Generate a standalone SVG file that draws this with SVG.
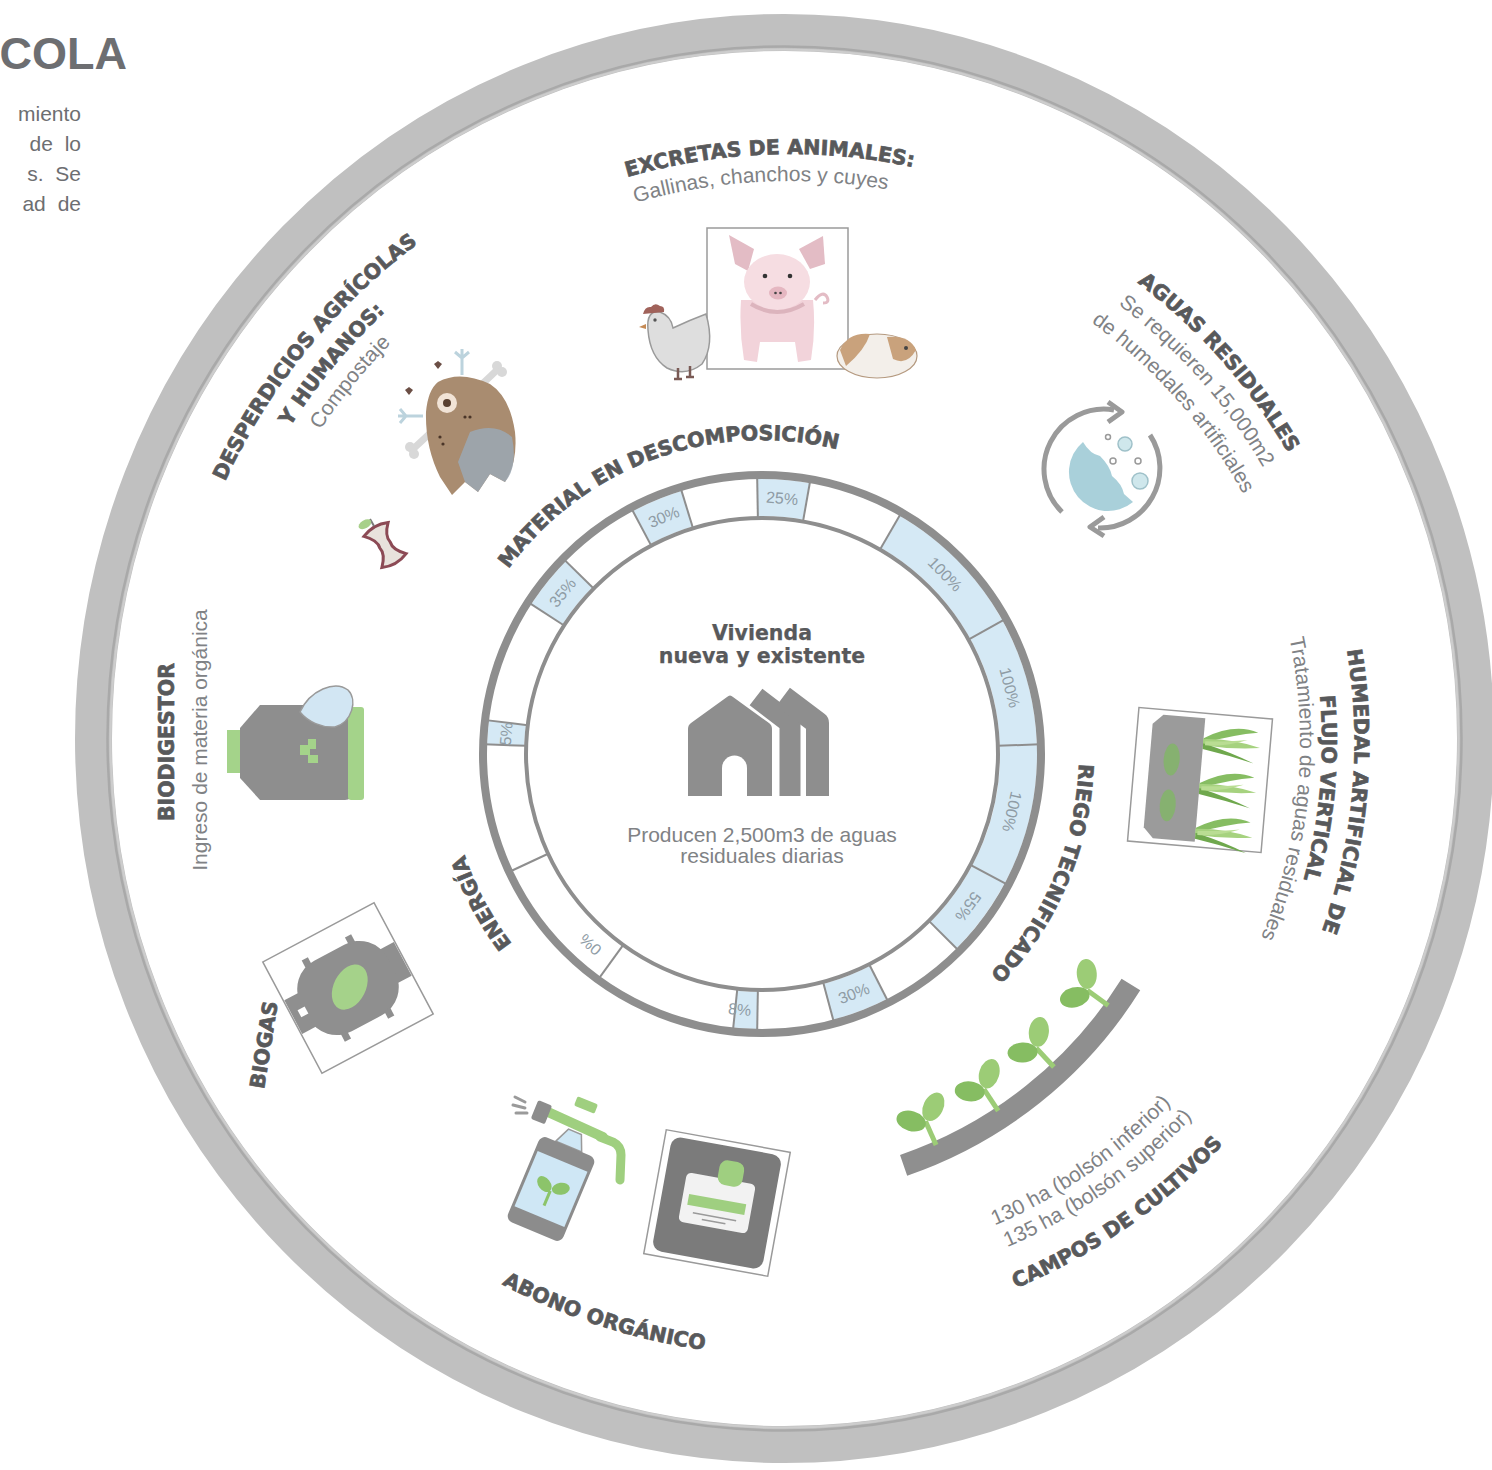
<svg xmlns="http://www.w3.org/2000/svg" width="1492" height="1470" viewBox="0 0 1492 1470">
<style>
.h{font-family:"DejaVu Sans","Liberation Sans",sans-serif;font-weight:bold;fill:#58595b;stroke:#58595b;stroke-width:0.7px;font-size:20.5px}
.hc{stroke-width:0.25px}
.t{font-family:"Liberation Sans",Arial,sans-serif;fill:#808285;font-size:21px}
.pct{font-family:"Liberation Sans",Arial,sans-serif;font-size:16px;fill:#8f9ca5;text-anchor:middle}
.seg{fill:none;stroke:#d5e9f5;stroke-width:37}
.dv{stroke:#8e8e8e;stroke-width:2}
.ico{stroke:#9a9a9a;stroke-width:1.5;fill:#fff}
.leaf{fill:#9ccc76}
.leafd{fill:#86bd62}
</style>
<defs>
  <!-- arcs around the outer ring centre (790,742); glyph tops point outward -->
  <path id="o588" d="M280.8,448 A588,588 0 0 1 1299.2,448"/>
  <path id="o561" d="M304.2,461.5 A561,561 0 0 1 1275.8,461.5"/>
  <path id="o622" d="M251.3,431 A622,622 0 0 1 1328.7,431"/>
  <path id="o591" d="M278.2,446.5 A591,591 0 0 1 1301.8,446.5"/>
  <path id="o564" d="M301.6,460 A564,564 0 0 1 1278.4,460"/>
  <path id="o576" d="M291.2,454 A576,576 0 0 1 1288.8,454"/>
  <path id="o547" d="M316.3,468.5 A547,547 0 0 1 1263.7,468.5"/>
  <path id="o516" d="M342.7,483.75 A516.5,516.5 0 0 1 1237.3,483.75"/>
  <path id="o564b" d="M301.1,459.75 A564.5,564.5 0 0 1 1278.9,459.75"/>
  <path id="o532" d="M329.3,476 A532,532 0 0 1 1250.7,476"/>
  <path id="o510" d="M348.3,487 A510,510 0 0 1 1231.7,487"/>
  <!-- arcs through the bottom; glyph tops point inward -->
  <path id="u614" d="M258.3,1049 A614,614 0 0 0 1321.7,1049"/>
  <path id="u591" d="M278.2,1037.5 A591,591 0 0 0 1301.8,1037.5"/>
  <path id="u550" d="M313.7,1017 A550,550 0 0 0 1266.3,1017"/>
  <path id="u525" d="M335.3,1004.5 A525,525 0 0 0 1244.7,1004.5"/>
  <!-- arcs around the inner ring centre (762,754) -->
  <path id="i314" d="M490.1,597 A314,314 0 0 1 1033.9,597"/>
  <path id="i317" d="M487.5,595.5 A317,317 0 0 1 1036.5,595.5"/>
</defs>

<rect width="1492" height="1470" fill="#fff"/>

<!-- title fragment and paragraph tail -->
<g id="title">
  <text x="127" y="69" text-anchor="end" font-family="Liberation Sans,Arial,sans-serif" font-weight="bold" font-size="45" fill="#6d6e71">COLA</text>
  <g font-family="Liberation Sans,Arial,sans-serif" font-size="21" fill="#6d6e71" text-anchor="end">
    <text x="81" y="121">miento</text>
    <text x="81" y="151" word-spacing="6">de lo</text>
    <text x="81" y="181" word-spacing="6">s. Se</text>
    <text x="81" y="211" word-spacing="6">ad de</text>
  </g>
</g>

<!-- outer ring -->
<g id="outer-ring">
  <ellipse cx="784.5" cy="738.5" rx="691" ry="706" fill="none" stroke="#c0c0c0" stroke-width="37"/>
  <ellipse cx="784.5" cy="738.5" rx="677" ry="692" fill="none" stroke="#a9a9a9" stroke-width="2.5"/>
  <ellipse cx="784.5" cy="738.5" rx="674" ry="689" fill="none" stroke="#cdcdcd" stroke-width="2"/>
</g>

<!-- inner ring with percentage cells -->
<g id="inner-ring">
  <circle cx="762" cy="754" r="279" fill="#fff"/>
  <circle class="seg" cx="762" cy="754" r="256.5" stroke-dasharray="49.24 2000" transform="rotate(-91 762 754)"/>
  <circle class="seg" cx="762" cy="754" r="256.5" stroke-dasharray="138.78 2000" transform="rotate(-60 762 754)"/>
  <circle class="seg" cx="762" cy="754" r="256.5" stroke-dasharray="120.87 2000" transform="rotate(-29 762 754)"/>
  <circle class="seg" cx="762" cy="754" r="256.5" stroke-dasharray="134.3 2000" transform="rotate(-2 762 754)"/>
  <circle class="seg" cx="762" cy="754" r="256.5" stroke-dasharray="76.11 2000" transform="rotate(28 762 754)"/>
  <circle class="seg" cx="762" cy="754" r="256.5" stroke-dasharray="53.72 2000" transform="rotate(63 762 754)"/>
  <circle class="seg" cx="762" cy="754" r="256.5" stroke-dasharray="22.38 2000" transform="rotate(91 762 754)"/>
  <circle class="seg" cx="762" cy="754" r="256.5" stroke-dasharray="22.38 2000" transform="rotate(182 762 754)"/>
  <circle class="seg" cx="762" cy="754" r="256.5" stroke-dasharray="51.48 2000" transform="rotate(213 762 754)"/>
  <circle class="seg" cx="762" cy="754" r="256.5" stroke-dasharray="49.24 2000" transform="rotate(242 762 754)"/>
  <g class="dv">
    <line x1="762" y1="518" x2="762" y2="476" transform="rotate(-1 762 754)"/>
    <line x1="762" y1="518" x2="762" y2="476" transform="rotate(10 762 754)"/>
    <line x1="762" y1="518" x2="762" y2="476" transform="rotate(30 762 754)"/>
    <line x1="762" y1="518" x2="762" y2="476" transform="rotate(61 762 754)"/>
    <line x1="762" y1="518" x2="762" y2="476" transform="rotate(88 762 754)"/>
    <line x1="762" y1="518" x2="762" y2="476" transform="rotate(118 762 754)"/>
    <line x1="762" y1="518" x2="762" y2="476" transform="rotate(135 762 754)"/>
    <line x1="762" y1="518" x2="762" y2="476" transform="rotate(153 762 754)"/>
    <line x1="762" y1="518" x2="762" y2="476" transform="rotate(165 762 754)"/>
    <line x1="762" y1="518" x2="762" y2="476" transform="rotate(181 762 754)"/>
    <line x1="762" y1="518" x2="762" y2="476" transform="rotate(186 762 754)"/>
    <line x1="762" y1="518" x2="762" y2="476" transform="rotate(216 762 754)"/>
    <line x1="762" y1="518" x2="762" y2="476" transform="rotate(245 762 754)"/>
    <line x1="762" y1="518" x2="762" y2="476" transform="rotate(272 762 754)"/>
    <line x1="762" y1="518" x2="762" y2="476" transform="rotate(277 762 754)"/>
    <line x1="762" y1="518" x2="762" y2="476" transform="rotate(303 762 754)"/>
    <line x1="762" y1="518" x2="762" y2="476" transform="rotate(314.5 762 754)"/>
    <line x1="762" y1="518" x2="762" y2="476" transform="rotate(332 762 754)"/>
    <line x1="762" y1="518" x2="762" y2="476" transform="rotate(343 762 754)"/>
  </g>
  <circle cx="762" cy="754" r="279" fill="none" stroke="#8e8e8e" stroke-width="8"/>
  <circle cx="762" cy="754" r="236" fill="none" stroke="#8e8e8e" stroke-width="4"/>
  <text class="pct" x="762" y="503" transform="rotate(4.5 762 754)">25%</text>
  <text class="pct" x="762" y="503" transform="rotate(45.5 762 754)">100%</text>
  <text class="pct" x="762" y="503" transform="rotate(75 762 754)">100%</text>
  <text class="pct" x="762" y="503" transform="rotate(103 762 754)">100%</text>
  <text class="pct" x="762" y="503" transform="rotate(126.5 762 754)">55%</text>
  <text class="pct" x="762" y="503" transform="rotate(159 762 754) rotate(180 762 497.5)">30%</text>
  <text class="pct" x="762" y="503" transform="rotate(185 762 754) rotate(180 762 497.5)">8%</text>
  <text class="pct" x="762" y="503" transform="rotate(222 762 754)">0%</text>
  <text class="pct" x="762" y="503" font-size="12" transform="rotate(274.5 762 754)">5%</text>
  <text class="pct" x="762" y="503" transform="rotate(309 762 754)">35%</text>
  <text class="pct" x="762" y="503" transform="rotate(337.5 762 754)">30%</text>
</g>

<!-- centre: housing -->
<g id="vivienda">
  <text class="h hc" x="762" y="639.5" text-anchor="middle" font-size="19.5">Vivienda</text>
  <text class="h hc" x="762" y="662.5" text-anchor="middle" font-size="19.5">nueva y existente</text>
  <path d="M688,796 V729 Q688,725 691,723 L727,697 Q730,694 733,697 L769,723 Q772,725 772,729 V796 Z" fill="#8e8e8e"/>
  <path d="M722,796 V768 A12.5,12.5 0 0 1 747,768 V796 Z" fill="#fff"/>
  <polyline points="756,697 790,723 790,796" fill="none" stroke="#8e8e8e" stroke-width="21" stroke-linejoin="round"/>
  <polyline points="783,697 817.5,723 817.5,796" fill="none" stroke="#8e8e8e" stroke-width="23" stroke-linejoin="round"/>
  <text class="t" x="762" y="842" text-anchor="middle" font-size="20.5">Producen 2,500m3 de aguas</text>
  <text class="t" x="762" y="863" text-anchor="middle" font-size="20.5">residuales diarias</text>
</g>

<!-- curved section labels -->
<g id="labels">
  <text class="h" text-anchor="middle" transform="rotate(-20 762 754)"><textPath href="#i314" startOffset="50%">MATERIAL EN DESCOMPOSICIÓN</textPath></text>
  <text class="h" text-anchor="middle" transform="rotate(112.9 762 754)"><textPath href="#i317" startOffset="50%">RIEGO TECNIFICADO</textPath></text>
  <text class="h" text-anchor="middle" transform="rotate(-118 762 754)"><textPath href="#i314" startOffset="50%">ENERGÍA</textPath></text>
</g>

<g id="excretas">
  <text class="h" text-anchor="middle" transform="rotate(-2 790 742)"><textPath href="#o588" startOffset="50%">EXCRETAS DE ANIMALES:</textPath></text>
  <text class="t" font-size="20.5" text-anchor="middle" transform="rotate(-3 790 742)"><textPath href="#o561" startOffset="50%">Gallinas, chanchos y cuyes</textPath></text>
  <!-- pig card -->
  <rect class="ico" x="707" y="228" width="141" height="141"/>
  <path d="M729,235 L754,249 L748,271 L735,264 Z" fill="#e3bcc5"/>
  <path d="M823,236 L825,264 L810,269 L799,249 Z" fill="#e3bcc5"/>
  <path d="M741,300 Q739,330 744,360 L757,362 L760,342 L795,342 L798,362 L811,360 Q816,330 813,300 Z" fill="#f2d3da"/>
  <ellipse cx="777" cy="282" rx="33" ry="28" fill="#f6dde2"/>
  <path d="M751,304 Q777,320 804,304" fill="none" stroke="#dcb4bd" stroke-width="4"/>
  <circle cx="765" cy="276" r="2.3" fill="#333"/>
  <circle cx="790" cy="276" r="2.3" fill="#333"/>
  <ellipse cx="778" cy="293" rx="9" ry="6.5" fill="#e5b7c1"/>
  <circle cx="775.5" cy="293" r="1.3" fill="#444"/>
  <circle cx="780.5" cy="293" r="1.3" fill="#444"/>
  <path d="M815,300 q8,-10 12,-3 q3,6 -4,6" fill="none" stroke="#e3bcc5" stroke-width="3"/>
  <!-- hen -->
  <path d="M648,330 Q646,310 660,312 Q671,316 673,328 Q690,320 706,314 Q715,345 702,364 Q686,377 667,368 Q650,357 648,330 Z" fill="#dedede" stroke="#9a9a9a" stroke-width="1.5"/>
  <path d="M643,314 q2,-8 8,-7 q4,-5 9,-1 q5,0 4,6 Z" fill="#a0625a"/>
  <path d="M646,324 l-7,3 l7,2 Z" fill="#c58a55"/>
  <circle cx="655" cy="320" r="1.7" fill="#555"/>
  <path d="M678,368 v10 M690,366 v10 M674,379 h8 M686,377 h8" stroke="#7a5a55" stroke-width="2.5"/>
  <!-- guinea pig -->
  <ellipse cx="877" cy="356" rx="40" ry="22" fill="#f3efea" stroke="#b59a80" stroke-width="1.2"/>
  <path d="M840,350 Q848,332 870,334 Q865,350 846,366 Z" fill="#c9a27c"/>
  <path d="M887,337 Q910,335 916,350 Q907,366 893,359 Z" fill="#c9a27c"/>
  <circle cx="906" cy="348" r="2" fill="#444"/>
</g>

<g id="desperdicios">
  <text class="h" font-size="20" text-anchor="middle" transform="rotate(-51 790 742)"><textPath href="#o622" startOffset="50%">DESPERDICIOS AGRÍCOLAS</textPath></text>
  <text class="h" font-size="20" text-anchor="middle" transform="rotate(-50.5 790 742)"><textPath href="#o591" startOffset="50%">Y HUMANOS:</textPath></text>
  <text class="t" text-anchor="middle" transform="rotate(-50.7 790 742)"><textPath href="#o564" startOffset="50%">Compostaje</textPath></text>
  <!-- compost heap -->
  <path d="M412,450 L440,424" stroke="#d8d8d8" stroke-width="7" stroke-linecap="round"/>
  <circle cx="410" cy="447" r="5" fill="#d8d8d8"/><circle cx="414" cy="454" r="5" fill="#d8d8d8"/>
  <path d="M478,388 L497,370" stroke="#d8d8d8" stroke-width="7" stroke-linecap="round"/>
  <circle cx="497" cy="366" r="5" fill="#d8d8d8"/><circle cx="502" cy="372" r="5" fill="#d8d8d8"/>
  <path d="M438,382 Q460,370 490,384 Q510,397 515,432 Q518,462 505,482 L490,474 L478,492 L465,482 L452,495 L440,477 Q425,447 426,412 Q428,390 438,382 Z" fill="#a98c70"/>
  <path d="M470,432 Q495,422 512,437 Q518,467 505,482 L490,474 L478,492 L465,482 L458,462 Z" fill="#9ba8b4" opacity="0.85"/>
  <circle cx="447" cy="403" r="10" fill="#f1e3d6"/><circle cx="447" cy="403" r="4" fill="#5a4030"/>
  <path d="M462,349 v26 M455,352 l7,6 l7,-6" stroke="#bcd3dd" stroke-width="3" fill="none"/>
  <path d="M398,416 h25 M400,409 l6,7 l-6,7" stroke="#bcd3dd" stroke-width="3" fill="none"/>
  <path d="M434,364 l4,-3 l4,3 l-4,5 Z" fill="#6b4e45"/>
  <path d="M405,390 l4,-3 l4,3 l-4,5 Z" fill="#6b4e45"/>
  <circle cx="440" cy="437" r="1.6" fill="#4a3528"/><circle cx="443" cy="444" r="1.6" fill="#4a3528"/>
  <circle cx="465" cy="417" r="1.6" fill="#4a3528"/><circle cx="470" cy="417" r="1.6" fill="#4a3528"/>
  <!-- apple core -->
  <g transform="translate(385,545) rotate(-30)">
    <path d="M-14,-18 Q0,-24 14,-18 Q4,-8 6,0 Q4,8 14,18 Q0,24 -14,18 Q-4,8 -6,0 Q-4,-8 -14,-18 Z" fill="#e8e2dc" stroke="#8c4a55" stroke-width="3"/>
    <path d="M0,-22 v-8" stroke="#7a7a7a" stroke-width="2"/>
    <ellipse cx="-7" cy="-28" rx="7" ry="4" fill="#a8d08a"/>
  </g>
</g>

<g id="aguas">
  <text class="h" text-anchor="middle" transform="rotate(48.5 790 742)"><textPath href="#o576" startOffset="50%">AGUAS RESIDUALES</textPath></text>
  <text class="t" text-anchor="middle" transform="rotate(48.4 790 742)"><textPath href="#o547" startOffset="50%">Se requieren 15,000m2</textPath></text>
  <text class="t" text-anchor="middle" transform="rotate(48.5 790 742)"><textPath href="#o516" startOffset="50%">de humedales artificiales</textPath></text>
  <!-- recycling water icon -->
  <g transform="translate(0,14)">
    <path d="M1062,498 A60,60 0 0 1 1114,396" fill="none" stroke="#9a9a9a" stroke-width="5"/>
    <path d="M1108,388 L1122,398 L1108,408" fill="none" stroke="#9a9a9a" stroke-width="5" stroke-linejoin="round"/>
    <path d="M1150,421 A60,60 0 0 1 1098,514" fill="none" stroke="#9a9a9a" stroke-width="5"/>
    <path d="M1104,503 L1090,513 L1104,522" fill="none" stroke="#9a9a9a" stroke-width="5" stroke-linejoin="round"/>
    <path d="M1083,428 Q1090,440 1100,442 Q1110,452 1112,462 Q1122,470 1124,480 L1133,488 A39,39 0 0 1 1083,428 Z" fill="#a9d0da"/>
    <circle cx="1125" cy="430" r="7" fill="#cfe7ec" stroke="#9fc1c9" stroke-width="1.5"/>
    <circle cx="1140" cy="467" r="8" fill="#cfe7ec" stroke="#9fc1c9" stroke-width="1.5"/>
    <circle cx="1108" cy="423" r="2.5" fill="none" stroke="#9a9a9a" stroke-width="1.5"/>
    <circle cx="1113" cy="447" r="3" fill="none" stroke="#9a9a9a" stroke-width="1.5"/>
    <circle cx="1138" cy="447" r="3" fill="none" stroke="#9a9a9a" stroke-width="1.5"/>
  </g>
</g>

<g id="humedal">
  <text class="h" text-anchor="middle" font-size="21.5" transform="rotate(95.1 790 742)"><textPath href="#o564b" startOffset="50%">HUMEDAL ARTIFICIAL DE</textPath></text>
  <text class="h" text-anchor="middle" font-size="21.5" transform="rotate(95 790 742)"><textPath href="#o532" startOffset="50%">FLUJO VERTICAL</textPath></text>
  <text class="t" text-anchor="middle" transform="rotate(95.4 790 742)"><textPath href="#o510" startOffset="50%">Tratamiento de aguas residuales</textPath></text>
  <g transform="translate(1200,780) rotate(4.9)">
    <rect class="ico" x="-67" y="-67" width="134" height="134"/>
    <path d="M-42,-62 H0 V62 H-42 L-52,52 V-52 Z" fill="#9b9b9b"/>
    <ellipse cx="-30" cy="-18" rx="8" ry="16" fill="#7dbb5e" opacity="0.7"/>
    <ellipse cx="-30" cy="28" rx="8" ry="16" fill="#7dbb5e" opacity="0.7"/>
    <g id="reeds">
      <path d="M0,-42 Q30,-60 54,-52 Q30,-48 0,-37 Z" fill="#86bd62"/>
      <path d="M0,-41 Q28,-44 57,-37 Q28,-33 0,-35 Z" fill="#a6d27f"/>
      <path d="M0,-37 Q30,-30 52,-21 Q26,-27 0,-31 Z" fill="#6fa84d"/>
      <path d="M2,-39 Q20,-40 44,-44 Q22,-35 2,-35 Z" fill="#b9dd93"/>
    </g>
    <use href="#reeds" transform="translate(0,45)"/>
    <use href="#reeds" transform="translate(0,90)"/>
  </g>
</g>

<g id="biodigestor">
  <text class="h" font-size="21" text-anchor="middle" transform="translate(174,742) rotate(-90)">BIODIGESTOR</text>
  <text class="t" font-size="20.5" text-anchor="middle" transform="translate(207,740) rotate(-90)">Ingreso de materia orgánica</text>
  <rect x="227" y="730" width="16" height="43" fill="#a4d38a"/>
  <path d="M260,705 H345 Q352,705 352,712 V793 Q352,800 345,800 H260 L240,778 V728 Z" fill="#8e8e8e"/>
  <rect x="348" y="707" width="16" height="93" rx="3" fill="#a4d38a"/>
  <path d="M300,712 C310,690 335,680 348,690 C358,700 352,722 335,727 C322,728 308,722 300,712 Z" fill="#d2e6f3" stroke="#9a9a9a" stroke-width="1.5"/>
  <path d="M300,745 h8 v-6 h8 v10 h-6 v6 h8 v8 h-10 v-8 h-8 Z" fill="#a4d38a"/>
</g>

<g id="biogas">
  <g transform="translate(348,988) rotate(-28)">
    <rect class="ico" x="-63" y="-63" width="126" height="126"/>
    <rect x="-62" y="-19" width="20" height="38" fill="#8f8f8f"/>
    <rect x="42" y="-19" width="20" height="38" fill="#8f8f8f"/>
    <rect x="-49" y="-40" width="98" height="80" rx="32" fill="#8f8f8f"/>
    <rect x="-28" y="-46" width="7" height="9" fill="#8f8f8f"/>
    <rect x="21" y="-46" width="7" height="9" fill="#8f8f8f"/>
    <rect x="-28" y="37" width="7" height="9" fill="#8f8f8f"/>
    <rect x="21" y="37" width="7" height="9" fill="#8f8f8f"/>
    <rect x="-55" y="-4" width="8" height="8" fill="#fff"/>
    <ellipse cx="2" cy="0" rx="24" ry="16" transform="rotate(-35 2 0)" fill="#a5d28a"/>
  </g>
  <text class="h" font-size="21" text-anchor="middle" transform="translate(271,1046) rotate(-81)">BIOGAS</text>
</g>

<g id="abono">
  <text class="h" text-anchor="middle" transform="rotate(18 790 742)"><textPath href="#u614" startOffset="50%">ABONO ORGÁNICO</textPath></text>
  <!-- sprayer -->
  <path d="M515,1097 l10,5 M513,1105 l12,3 M516,1113 l11,0" stroke="#9a9a9a" stroke-width="3" stroke-linecap="round"/>
  <line x1="548" y1="1112" x2="603" y2="1137" stroke="#9fcf7f" stroke-width="10" stroke-linecap="round"/>
  <path d="M600,1137 L613,1142 Q621,1146 621,1155 L620,1180" fill="none" stroke="#9fcf7f" stroke-width="9" stroke-linecap="round"/>
  <rect x="534" y="1102" width="15" height="20" rx="2" fill="#8c8c8c" transform="rotate(22 541 1112)"/>
  <rect x="575" y="1100" width="22" height="10" rx="2" fill="#9fcf7f" transform="rotate(22 586 1105)"/>
  <g transform="translate(551,1189) rotate(22.7)">
    <path d="M-14,-46 L-7,-62 L7,-62 L14,-46 Z" fill="#cfe7f5" stroke="#9a9a9a" stroke-width="1.5"/>
    <rect x="-30" y="-46" width="60" height="92" rx="7" fill="#8c8c8c"/>
    <rect x="-27" y="-30" width="54" height="60" fill="#cfe7f5"/>
    <path d="M0,18 V2" stroke="#8cc46a" stroke-width="3"/>
    <ellipse cx="-8" cy="-2" rx="9" ry="6" transform="rotate(30 -8 -2)" fill="#8cc46a"/>
    <ellipse cx="9" cy="-4" rx="9" ry="6" transform="rotate(-30 9 -4)" fill="#8cc46a"/>
  </g>
  <!-- fertiliser sack -->
  <g transform="translate(717,1203) rotate(10.3)">
    <rect class="ico" x="-63" y="-63" width="126" height="126"/>
    <rect x="-56" y="-58" width="112" height="116" rx="10" fill="#7b7b7b"/>
    <rect x="-35" y="-25" width="70" height="50" rx="5" fill="#f2f2f2"/>
    <rect x="-4" y="-44" width="25" height="25" rx="8" fill="#9fcf80"/>
    <rect x="-29" y="-4" width="58" height="11" fill="#9fcf80"/>
    <path d="M-22,14 h44 M-12,19 h24" stroke="#9a9a9a" stroke-width="1.5"/>
  </g>
</g>

<g id="campos">
  <text class="h" text-anchor="middle" transform="rotate(-34.8 790 742)"><textPath href="#u591" startOffset="50%">CAMPOS DE CULTIVOS</textPath></text>
  <text class="t" font-size="20" text-anchor="middle" transform="rotate(-35.15 790 742)"><textPath href="#u550" startOffset="50%">135 ha (bolsón superior)</textPath></text>
  <text class="t" font-size="20" text-anchor="middle" transform="rotate(-34.75 790 742)"><textPath href="#u525" startOffset="50%">130 ha (bolsón inferior)</textPath></text>
  <!-- soil strip with seedlings -->
  <path d="M903.6,1165.3 A435,435 0 0 0 1130.9,984.5" fill="none" stroke="#8f8f8f" stroke-width="22"/>
  <g id="sprout" transform="rotate(156 762 754)">
    <path d="M762,326 V352" stroke="#9ccc76" stroke-width="5"/>
    <ellipse cx="749" cy="362" rx="15" ry="10" transform="rotate(-40 749 362)" class="leaf"/>
    <ellipse cx="775" cy="358" rx="15" ry="10" transform="rotate(40 775 358)" class="leafd"/>
  </g>
  <use href="#sprout" transform="rotate(-9.5 762 754)"/>
  <use href="#sprout" transform="rotate(-19 762 754)"/>
  <use href="#sprout" transform="rotate(-30 762 754)"/>
</g>
</svg>
